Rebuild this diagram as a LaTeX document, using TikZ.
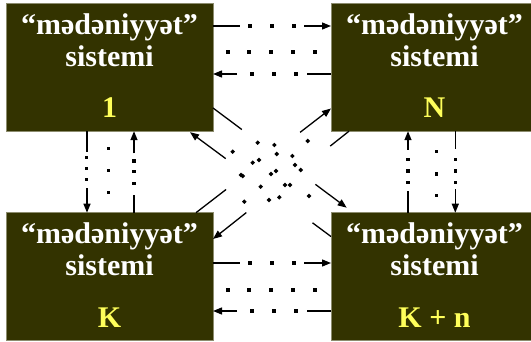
\documentclass[tikz,border=0pt]{standalone}
\usepackage{fontspec}
\setmainfont{Liberation Serif}[BoldFont={Liberation Serif Bold}]
\usetikzlibrary{arrows.meta}
\definecolor{boxfill}{RGB}{51,51,0}
\definecolor{boxedge}{RGB}{140,140,110}
\definecolor{numyellow}{RGB}{255,255,90}
\newcommand\sqd[2]{\fill ({#1-1.7},{#2-1.7}) rectangle ++(3.4,3.4);}
\begin{document}
\begin{tikzpicture}[x=1pt,y=-1pt,
  sysbox/.style={rectangle, fill=boxfill, draw=boxedge, line width=0.7pt,
    minimum width=207pt, minimum height=128pt, inner sep=0pt, outer sep=0pt},
  wtext/.style={font=\fontsize{30}{30}\selectfont\bfseries, text=white,
    anchor=base, inner sep=0pt, outer sep=0pt},
  ntext/.style={wtext, text=numyellow},
  conn/.style={line width=1.3pt, -{Triangle[length=9pt,width=7pt]}},
]
\useasboundingbox (0,0) rectangle (531,342);
\clip (0,0) rectangle (531,342);
\fill[white] (0,0) rectangle (531,342);

% boxes
\node[sysbox] (b1)  at (109.5,67.2) {};
\node[sysbox] (bN)  at (434.5,67.2) {};
\node[sysbox] (bK)  at (109.5,276.7) {};
\node[sysbox] (bKn) at (434.5,276.7) {};

% texts
\foreach \b in {b1,bN,bK,bKn}{
  \node[wtext] (\b a) at ([yshift=-31pt]\b.north) {“mədəniyyət”};
  \node[wtext] (\b b) at ([yshift=-63pt]\b.north) {sistemi};
}
\node[ntext] (b1c)  at ([yshift=-114.5pt]b1.north) {1};
\node[ntext] (bNc)  at ([yshift=-114.5pt]bN.north) {N};
\node[ntext] (bKc)  at ([yshift=-114.5pt]bK.north) {K};
\node[ntext] (bKnc) at ([yshift=-114.5pt]bKn.north) {K + n};

% horizontal connectors
\draw[conn, dash pattern=on 27pt off 64pt on 60pt] (b1.east |- 0,26) -- (bN.west |- 0,26);
\draw[conn, dash pattern=on 24pt off 70pt on 60pt] (bN.west |- 0,74) -- (b1.east |- 0,74);
\draw[conn, dash pattern=on 27pt off 64pt on 60pt] (bK.east |- 0,263) -- (bKn.west |- 0,263);
\draw[conn, dash pattern=on 24pt off 70pt on 60pt] (bKn.west |- 0,311) -- (bK.east |- 0,311);
\foreach \x in {250,272,294}{\sqd{\x}{26}\sqd{\x}{263}}
\foreach \x in {252,274,296}{\sqd{\x}{74}\sqd{\x}{311}}
\foreach \x in {228,249,271,293,315}{\sqd{\x}{52}\sqd{\x}{290}}

% vertical connectors
\draw[conn, dash pattern=on 21pt off 36pt on 60pt] (b1.south -| 87,0) -- (bK.north -| 87,0);
\draw[conn, dash pattern=on 17.7pt off 41.7pt on 60pt] (bK.north -| 134,0) -- (b1.south -| 134,0);
\draw[conn, dash pattern=on 21.7pt off 41pt on 60pt] (bKn.north -| 408,0) -- (bN.south -| 408,0);
\draw[conn, dash pattern=on 18.3pt off 40pt on 60pt] (bN.south -| 455.3,0) -- (bKn.north -| 455.3,0);
\foreach \y in {157.3,168.3,179.3}{\sqd{86.7}{\y}}
\foreach \y in {161,171.7,183.3}{\sqd{134}{\y}}
\foreach \y in {148.3,170.3,192.3}{\sqd{108.3}{\y}}
\foreach \y in {159.3,171,182.7}{\sqd{408}{\y}}
\foreach \y in {159.7,171,182.3}{\sqd{455.3}{\y}}
\foreach \y in {151.7,174,195.7}{\sqd{436.3}{\y}}

% diagonal connectors
\draw[conn, dash pattern=on 36pt off 91.7pt on 60pt]
  (b1.east |- 0,108) -- ([xshift=15.7pt,yshift=5pt]bKn.north west);
\draw[conn, dash pattern=on 23pt off 108pt on 60pt]
  (bKn.west |- 0,236.5) -- ([yshift=-1pt]b1.south -| 190,0);
\draw[conn, dash pattern=on 38pt off 93.5pt on 60pt]
  (bK.north -| 196,0) -- (bN.west |- 0,108.5);
\draw[conn, dash pattern=on 24pt off 107pt on 60pt]
  (bN.south -| 349,0) -- (bK.east |- 0,239);

% scattered dots of the crossing lines
\foreach \p in {(257.7,142.7),(274.3,145),(307.7,141),(232.7,151.7),(276.7,154),
  (292.3,156),(259,160),(252.7,162.7),(295,165),(300.7,170),(241,175),(242.7,176),
  (276,171),(271,174),(285,185),(290,185),(260.7,186.7),(279.3,197.3),(269,200),
  (244.3,201.7),(309,196)}{\fill \p +(0,-2.3) -- +(2.3,0) -- +(0,2.3) -- +(-2.3,0) -- cycle;}
\end{tikzpicture}
\end{document}
